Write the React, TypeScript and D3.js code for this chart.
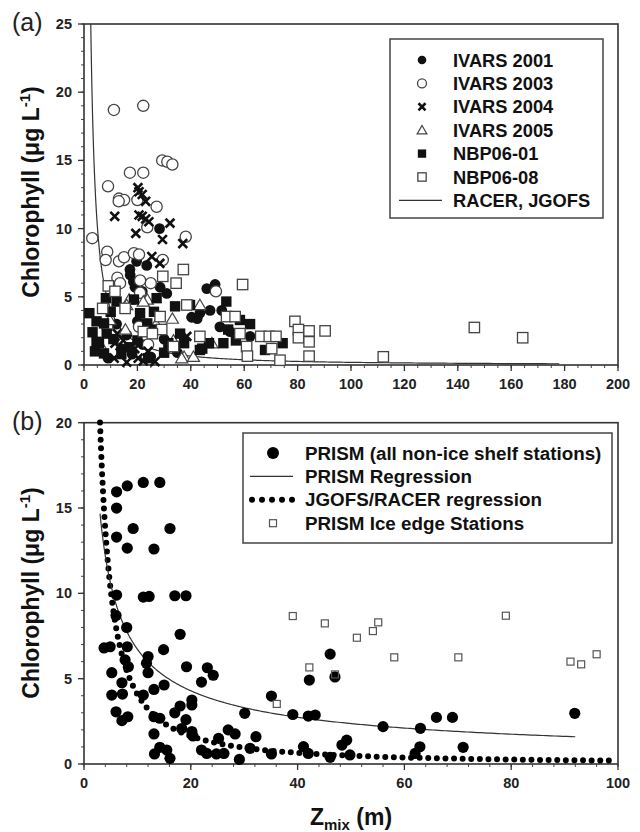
import React from "react";
import * as d3 from "d3";

// ---------- Panel (a) data: [Zmix (m), Chl (ug/L)] ----------
const ivars2001: [number, number][] = [
  [28.3, 10.0], [19.7, 7.6], [17.2, 7.0], [23.5, 7.3], [17.3, 6.6], [18.5, 6.1], [19.1, 5.7],
  [28.5, 5.7], [31, 5.25], [46, 5.6], [49.1, 5.9], [12.2, 3.0], [40.3, 3.5], [43.4, 3.8],
  [47.2, 4.0], [51.6, 4.0], [50.9, 2.8], [54.7, 2.45], [62.2, 2.1], [21.8, 5.4], [42.4, 3.4],
  [14, 1.2], [18, 0.8], [22, 1.5], [25, 0.6], [16, 2.2], [9, 0.5], [30, 1.9], [35, 0.9], [20, 3.2],
];
const ivars2003: [number, number][] = [
  [11.2, 18.7], [22.2, 19.0], [29.3, 15.0], [31.2, 14.9], [33.1, 14.7], [17.2, 14.1], [22.2, 14.1],
  [9.0, 13.1], [13.1, 12.2], [15, 12.1], [20, 12.1], [27.2, 11.6], [23.7, 10.1], [38.1, 9.4],
  [3.1, 9.3], [8.7, 8.3], [8.1, 7.7], [13.1, 7.6], [15, 7.9], [18.7, 8.2], [20.6, 8.1], [29.5, 7.7],
  [12.5, 6.4], [13.5, 6.0], [25, 6.0], [21, 6.2], [21, 5.3], [49.4, 5.4], [8.7, 2.8], [13, 12.0],
  [20.6, 2.8], [24, 1.5],
];
const ivars2004: [number, number][] = [
  [20.2, 13.0], [20.6, 12.7], [21.8, 12.5], [23.1, 12.0], [11.5, 10.9], [20.6, 11.0], [21.8, 10.9],
  [23.1, 10.7], [24.3, 10.5], [32.2, 10.4], [19.4, 9.65], [29.4, 9.2], [37, 8.9], [25.4, 7.95],
  [28.4, 7.45], [11.6, 1.6], [14.7, 1.8], [13.5, 0.9], [11.3, 0.5], [20.3, 0.5], [22.2, 0.3],
  [26.6, 0.25], [38.5, 2.1], [19, 1.2], [24, 1.0], [16, 0.2], [12.5, 2.3],
];
const ivars2005: [number, number][] = [
  [16.9, 4.8], [23.7, 4.8], [33.1, 3.4], [15.5, 2.6], [37.5, 0.6], [16, 4.4], [22.2, 4.65],
  [36.6, 0.5], [41, 0.6], [43.4, 4.4], [47.9, 1.6], [9.7, 3.3], [33.5, 1.8], [7, 1.2], [27, 3.0],
];
const nbp0601: [number, number][] = [
  [2.0, 3.8], [4.7, 3.2], [3.2, 2.4], [4.7, 1.7], [4.1, 1.0], [8.2, 4.9], [12.2, 4.65], [8.5, 2.3],
  [21, 3.8], [27.2, 4.9], [34.1, 4.3], [39.7, 4.4], [53.3, 4.65], [58.4, 3.3], [62.2, 3.0],
  [56.9, 1.8], [52.2, 1.6], [67.8, 1.1], [74.4, 1.6], [43.4, 1.1], [31.6, 1.6], [36, 2.3],
  [7.5, 3.05], [18.7, 4.8], [26.2, 3.9], [23.7, 3.05], [26.8, 2.6], [37.5, 1.6], [46.8, 1.6],
  [44.3, 1.2], [5.6, 1.6], [7.5, 0.85], [54, 2.6], [14, 0.8], [20, 1.8], [17, 1.3], [24, 0.5],
  [30, 0.9], [11, 1.9], [10, 3.9],
];
const nbp0608: [number, number][] = [
  [9.1, 5.8], [11.6, 5.4], [7, 4.15], [15.4, 4.15], [29.5, 6.5], [34.5, 6.0], [37.2, 7.0],
  [59.4, 5.9], [38.5, 4.4], [28.5, 3.55], [22.2, 2.45], [29.1, 2.6], [33.5, 1.35], [43.4, 2.1],
  [53.4, 3.55], [56.6, 3.55], [58.4, 2.3], [60.9, 1.35], [66.2, 2.1], [69.4, 2.1], [71.9, 2.1],
  [70.3, 1.2], [73.4, 0.35], [61.2, 0.65], [79, 3.2], [80.3, 2.6], [80.3, 2.0], [84.3, 2.5],
  [84.3, 1.7], [84.3, 0.65], [90.3, 2.5], [112.1, 0.6], [146.2, 2.75], [164.3, 2.0], [25.6, 2.3],
];

// ---------- Panel (b) data ----------
const prismStations: [number, number][] = [
  [8.1, 16.3], [11.1, 16.5], [14.2, 16.5], [6.1, 15.95], [6.1, 15.0], [9.2, 13.8], [16.1, 13.8],
  [6.1, 13.3], [8.1, 12.65], [13.1, 12.6], [6.1, 9.9], [11.1, 9.78], [12.2, 9.82], [17, 9.86],
  [19.1, 9.86], [6.0, 8.7], [8.0, 8.0], [18, 7.6], [3.75, 6.8], [4.9, 6.87], [8.1, 6.87],
  [14.9, 6.7], [12.0, 6.3], [7.7, 6.1], [11.7, 5.9], [8.3, 5.7], [19.2, 5.7], [23.1, 5.64],
  [24.2, 5.2], [5.2, 5.35], [12.0, 5.35], [22, 4.8], [7.1, 4.76], [15.0, 4.63], [13.1, 4.37],
  [5.2, 4.04], [7.2, 4.1], [11.1, 4.04], [20.2, 3.75], [20.2, 3.46], [18, 3.4], [17, 3.0],
  [6.0, 3.06], [8.2, 2.77], [7.1, 2.54], [13.1, 2.77], [14.2, 2.68], [30.1, 2.97], [35.1, 3.98],
  [39.1, 2.9], [42.2, 4.92], [19.1, 2.6], [18.3, 2.08], [20.2, 1.9], [20.4, 1.64], [13.1, 1.76],
  [27, 2.0], [28.3, 1.76], [32.2, 1.6], [25.2, 1.5], [22, 0.82], [23, 0.62], [24.8, 0.59],
  [26.2, 0.62], [13.2, 0.59], [14.2, 0.98], [15.5, 0.82], [16.1, 0.33], [29.1, 0.27], [31.1, 0.92],
  [35.1, 0.59], [41.1, 1.02], [42, 0.62], [46.1, 6.44], [47, 5.1], [42, 2.81], [43.3, 2.87],
  [56, 2.19], [63, 2.09], [66, 2.73], [69, 2.73], [91.9, 2.97], [48.3, 1.11], [49.2, 1.4],
  [49.8, 0.53], [46.1, 0.39], [62.9, 1.01], [62, 0.62], [71, 0.98],
];
const iceEdgeStations: [number, number][] = [
  [39.1, 8.67], [42.2, 5.66], [36.1, 3.52], [45.1, 8.24], [51.1, 7.4], [54.1, 7.79], [55.1, 8.3],
  [79.0, 8.69], [58.1, 6.25], [70.1, 6.25], [91.1, 6.0], [93.1, 5.84], [96.0, 6.43], [47.0, 5.25],
];

// Regression coefficients (Chl = a * Zmix^b)
const jgofsCoef = { a: 85.4, b: -1.321 };
const prismCoef = { a: 29.9, b: -0.648 };
const curveARange = [2.53, 178];
const prismRange = [3.0, 92];
const jgofsBRange = [3.0, 98.5];

const legendA = ["IVARS 2001", "IVARS 2003", "IVARS 2004", "IVARS 2005", "NBP06-01", "NBP06-08", "RACER, JGOFS"];
const legendB = ["PRISM (all non-ice shelf stations)", "PRISM Regression", "JGOFS/RACER regression", "PRISM Ice edge Stations"];

const FONT = "'Liberation Sans', Arial, Helvetica, sans-serif";
const INK = "#111";
const GREY = "#444";

type Kind = "fcircle" | "ocircle" | "x" | "tri" | "fsquare" | "osquare";

function Marker({ kind, x, y, s = 1 }: { kind: Kind; x: number; y: number; s?: number }) {
  switch (kind) {
    case "fcircle":
      return <circle cx={x} cy={y} r={5.4 * s} fill={INK} />;
    case "ocircle":
      return <circle cx={x} cy={y} r={5.6 * s} fill="#fff" stroke={GREY} strokeWidth={1.3} />;
    case "x": {
      const h = 4.4 * s;
      return (
        <path d={`M${x - h},${y - h}L${x + h},${y + h}M${x - h},${y + h}L${x + h},${y - h}`} stroke={INK} strokeWidth={2.6} />
      );
    }
    case "tri": {
      const h = 5.8 * s;
      return (
        <path d={`M${x},${y - h}L${x + h * 1.05},${y + h * 0.8}L${x - h * 1.05},${y + h * 0.8}Z`} fill="#fff" stroke={GREY} strokeWidth={1.2} />
      );
    }
    case "fsquare":
      return <rect x={x - 5.2 * s} y={y - 5.2 * s} width={10.4 * s} height={10.4 * s} fill={INK} />;
    case "osquare":
      return <rect x={x - 5.2 * s} y={y - 5.2 * s} width={10.4 * s} height={10.4 * s} fill="#fff" stroke={GREY} strokeWidth={1.3} />;
  }
}

function Axes({
  x, y, xMajor, xMinor, yMajor, yMinor,
}: {
  x: d3.ScaleLinear<number, number>; y: d3.ScaleLinear<number, number>;
  xMajor: number; xMinor: number; yMajor: number; yMinor: number;
}) {
  const [x0, x1] = x.domain();
  const [y0, y1] = y.domain();
  const [px0, px1] = x.range();
  const [py0, py1] = y.range();
  const xMaj = d3.range(x0, x1 + 0.001, xMajor);
  const xMin = d3.range(x0, x1 + 0.001, xMinor);
  const yMaj = d3.range(y0, y1 + 0.001, yMajor);
  const yMin = d3.range(y0, y1 + 0.001, yMinor);
  return (
    <g>
      {xMin.map((v) => (
        <line key={"xm" + v} x1={x(v)} x2={x(v)} y1={py0} y2={py0 + 3} stroke="#444" strokeWidth={1} />
      ))}
      {xMaj.map((v) => (
        <line key={"xM" + v} x1={x(v)} x2={x(v)} y1={py0} y2={py0 + 6} stroke="#333" strokeWidth={1.3} />
      ))}
      {yMin.map((v) => (
        <line key={"ym" + v} x1={px0 - 3} x2={px0} y1={y(v)} y2={y(v)} stroke="#444" strokeWidth={1} />
      ))}
      {yMaj.map((v) => (
        <line key={"yM" + v} x1={px0 - 6} x2={px0} y1={y(v)} y2={y(v)} stroke="#333" strokeWidth={1.3} />
      ))}
      {xMaj.map((v) => (
        <text key={"xl" + v} x={x(v)} y={py0 + 24} textAnchor="middle" fontSize={14.5} fontWeight="bold" fill="#222">
          {v}
        </text>
      ))}
      {yMaj.map((v) => (
        <text key={"yl" + v} x={px0 - 12} y={y(v) + 5} textAnchor="end" fontSize={14.5} fontWeight="bold" fill="#222">
          {v}
        </text>
      ))}
      <rect x={px0} y={py1} width={px1 - px0} height={py0 - py1} fill="none" stroke="#333" strokeWidth={1.6} />
    </g>
  );
}

function YLabel({ cx, cy }: { cx: number; cy: number }) {
  return (
    <text transform={`translate(${cx},${cy}) rotate(-90)`} textAnchor="middle" fontSize={23} fontWeight="bold" fill="#111">
      Chlorophyll (μg L<tspan dy={-9} fontSize={15}>-1</tspan><tspan dy={9}>)</tspan>
    </text>
  );
}

export default function App() {
  const xA = d3.scaleLinear().domain([0, 200]).range([84, 618]);
  const yA = d3.scaleLinear().domain([0, 25]).range([365, 24]);
  const xB = d3.scaleLinear().domain([0, 100]).range([84, 618]);
  const yB = d3.scaleLinear().domain([0, 20]).range([764, 422.7]);

  const power = (c: { a: number; b: number }, z: number) => c.a * Math.pow(z, c.b);
  const sampleZ = (r: number[]) => {
    const out: number[] = [];
    const n = 400;
    const l0 = Math.log(r[0]), l1 = Math.log(r[1]);
    for (let i = 0; i <= n; i++) out.push(Math.exp(l0 + ((l1 - l0) * i) / n));
    return out;
  };
  const lineA = d3.line<number>().x((z) => xA(z)).y((z) => yA(power(jgofsCoef, z)));
  const lineB = d3.line<number>().x((z) => xB(z)).y((z) => yB(power(jgofsCoef, z)));
  const lineP = d3.line<number>().x((z) => xB(z)).y((z) => yB(power(prismCoef, z)));

  const seriesA: { data: [number, number][]; kind: Kind }[] = [
    { data: ivars2001, kind: "fcircle" },
    { data: ivars2003, kind: "ocircle" },
    { data: ivars2004, kind: "x" },
    { data: ivars2005, kind: "tri" },
    { data: nbp0601, kind: "fsquare" },
    { data: nbp0608, kind: "osquare" },
  ];
  const legendKinds: Kind[] = ["fcircle", "ocircle", "x", "tri", "fsquare", "osquare"];

  return (
    <svg width={640} height={832} style={{ position: "absolute", left: 0, top: 0, fontFamily: FONT }} fontFamily={FONT}>
      <rect width={640} height={832} fill="#fff" />
      <defs>
        <clipPath id="clipA">
          <rect x={84} y={24} width={534} height={341} />
        </clipPath>
      </defs>

      {/* Panel (a) */}
      <text x={12} y={31} fontSize={25} fill="#222">(a)</text>
      <Axes x={xA} y={yA} xMajor={20} xMinor={5} yMajor={5} yMinor={1} />
      <YLabel cx={39} cy={192} />
      <path d={lineA(sampleZ(curveARange)) || ""} fill="none" stroke="#333" strokeWidth={1.2} clipPath="url(#clipA)" />
      {seriesA.map((s, i) => (
        <g key={i}>
          {s.data.map((d, j) => (
            <Marker key={j} kind={s.kind} x={xA(d[0])} y={yA(d[1])} />
          ))}
        </g>
      ))}
      <g>
        <rect x={390} y={39} width={213} height={179} fill="#fff" stroke="#444" strokeWidth={1.5} />
        {legendA.map((t, i) => {
          const cy = 60 + i * 23.4;
          return (
            <g key={t}>
              {i < 6 ? (
                <Marker kind={legendKinds[i]} x={422} y={cy} s={0.8} />
              ) : (
                <line x1={399} x2={442} y1={cy} y2={cy} stroke="#333" strokeWidth={1.2} />
              )}
              <text x={453} y={cy + 6.5} fontSize={18.3} fontWeight="bold" fill="#111">
                {t}
              </text>
            </g>
          );
        })}
      </g>

      {/* Panel (b) */}
      <text x={12} y={430} fontSize={25} fill="#222">(b)</text>
      <Axes x={xB} y={yB} xMajor={20} xMinor={4} yMajor={5} yMinor={1} />
      <YLabel cx={39} cy={593} />
      <path d={lineB(sampleZ(jgofsBRange)) || ""} fill="none" stroke="#000" strokeWidth={6} strokeLinecap="round" strokeDasharray="0 8.6" />
      <path d={lineP(sampleZ(prismRange)) || ""} fill="none" stroke="#333" strokeWidth={1.2} />
      {prismStations.map((d, j) => (
        <circle key={j} cx={xB(d[0])} cy={yB(d[1])} r={5.6} fill="#000" />
      ))}
      {iceEdgeStations.map((d, j) => (
        <rect key={j} x={xB(d[0]) - 3.5} y={yB(d[1]) - 3.5} width={7} height={7} fill="none" stroke="#555" strokeWidth={1.2} />
      ))}
      <g>
        <rect x={243} y={433} width={369} height={110} fill="#fff" stroke="#444" strokeWidth={1.5} />
        {legendB.map((t, i) => {
          const cy = 453 + i * 23.4;
          return (
            <g key={t}>
              {i === 0 && <circle cx={273} cy={cy} r={6} fill="#000" />}
              {i === 1 && <line x1={250} x2={293} y1={cy} y2={cy} stroke="#333" strokeWidth={1.2} />}
              {i === 2 &&
                d3.range(5).map((k) => <circle key={k} cx={252 + k * 10} cy={cy} r={3} fill="#000" />)}
              {i === 3 && <rect x={269.5} y={cy - 3.5} width={7} height={7} fill="none" stroke="#555" strokeWidth={1.2} />}
              <text x={305} y={cy + 6.5} fontSize={18.8} fontWeight="bold" fill="#111">
                {t}
              </text>
            </g>
          );
        })}
      </g>
      <text x={351} y={825} textAnchor="middle" fontSize={23} fontWeight="bold" fill="#111">
        Z<tspan dy={5} fontSize={15}>mix</tspan><tspan dy={-5}> (m)</tspan>
      </text>
    </svg>
  );
}
